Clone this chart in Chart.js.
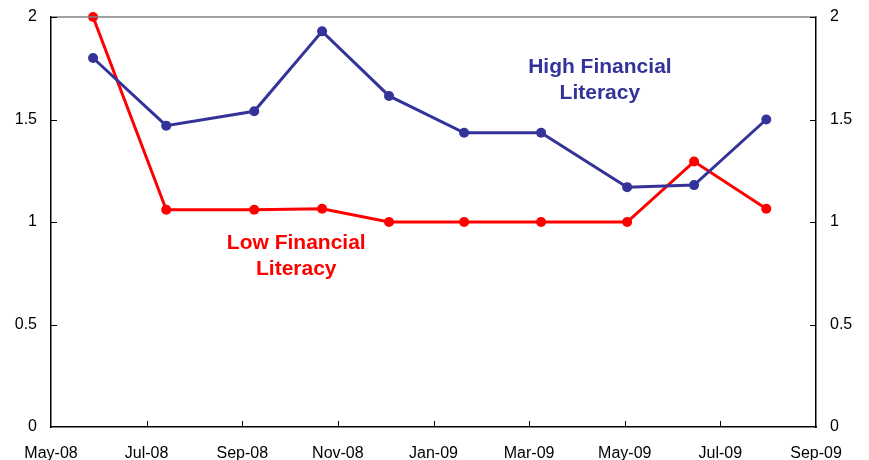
<!DOCTYPE html>
<html>
<head>
<meta charset="utf-8">
<script src="https://cdn.jsdelivr.net/npm/chart.js@4/dist/chart.umd.min.js"></script>
<style>
  html, body { margin: 0; padding: 0; background: #fff; }
  #wrap { width: 869px; height: 460px; }
</style>
</head>
<body>
<div id="wrap"><canvas id="myChart" width="869" height="460"></canvas></div>
<script>
// months since May-08 for each survey point
var monthPos = [0.88, 2.41, 4.25, 5.67, 7.07, 8.64, 10.25, 12.05, 13.45, 14.96];
var highLit = [1.80, 1.47, 1.54, 1.93, 1.615, 1.435, 1.435, 1.17, 1.18, 1.50];
var lowLit = [2.00, 1.06, 1.06, 1.065, 1.00, 1.00, 1.00, 1.00, 1.295, 1.065];
var xLabels = ['May-08', 'Jul-08', 'Sep-08', 'Nov-08', 'Jan-09', 'Mar-09', 'May-09', 'Jul-09', 'Sep-09'];
var yLabels = ['0', '0.5', '1', '1.5', '2'];

var BLUE = '#333399';
var RED = '#ff0000';

function toPoints(xs, ys) {
    return xs.map(function (x, i) { return { x: x, y: ys[i] }; });
}

// text labels placed in data units
var notes = [
    { lines: ['High Financial', 'Literacy'], x: 11.48, y: 1.756, color: BLUE },
    { lines: ['Low Financial', 'Literacy'], x: 5.13, y: 0.898, color: RED }
];

var extras = {
    id: 'extras',
    afterDraw: function (chart) {
        var ctx = chart.ctx;
        var a = chart.chartArea;
        var xs = chart.scales.x, ys = chart.scales.y;
        ctx.save();
        // top border
        ctx.strokeStyle = '#808080';
        ctx.lineWidth = 1.5;
        ctx.beginPath();
        ctx.moveTo(a.left, a.top);
        ctx.lineTo(a.right, a.top);
        ctx.stroke();
        // inside tick marks
        ctx.strokeStyle = '#000';
        ctx.lineWidth = 1;
        ctx.beginPath();
        for (var i = 1; i < xLabels.length - 1; i++) {
            var px = Math.round(xs.getPixelForValue(i * 2)) + 0.5;
            ctx.moveTo(px, a.bottom);
            ctx.lineTo(px, a.bottom - 6);
        }
        for (var j = 1; j < yLabels.length; j++) {
            var py = Math.round(ys.getPixelForValue(j * 0.5)) + 0.5;
            ctx.moveTo(a.left, py);
            ctx.lineTo(a.left + 6, py);
            ctx.moveTo(a.right, py);
            ctx.lineTo(a.right - 6, py);
        }
        ctx.stroke();
        // notes
        ctx.font = 'bold 21px "Liberation Sans", Arial, sans-serif';
        ctx.textAlign = 'center';
        ctx.textBaseline = 'middle';
        notes.forEach(function (n) {
            ctx.fillStyle = n.color;
            var cx = xs.getPixelForValue(n.x);
            var cy = ys.getPixelForValue(n.y);
            n.lines.forEach(function (t, k) {
                ctx.fillText(t, cx, cy + k * 26);
            });
        });
        ctx.restore();
    }
};

var tickFont = { family: '"Liberation Sans", Arial, sans-serif', size: 16 };

function yAxis(pos, w) {
    return {
        type: 'linear',
        position: pos,
        min: 0,
        max: 2,
        grid: { display: false, drawTicks: false },
        border: { display: true, color: '#000', width: 1.5 },
        ticks: {
            stepSize: 0.5,
            padding: 14,
            color: '#000',
            font: tickFont,
            callback: function (v) { return yLabels[Math.round(v / 0.5)]; }
        },
        afterFit: function (s) {
            s.width = w;
            s.paddingTop = 0;
            s.paddingBottom = 0;
        }
    };
}

var ctx = document.getElementById('myChart');
var myChart = new Chart(ctx, {
    type: 'line',
    data: {
        datasets: [
            {
                label: 'High Financial Literacy',
                data: toPoints(monthPos, highLit),
                borderColor: BLUE,
                backgroundColor: BLUE,
                borderWidth: 3,
                pointRadius: 5,
                pointBorderWidth: 0,
                tension: 0
            },
            {
                label: 'Low Financial Literacy',
                data: toPoints(monthPos, lowLit),
                borderColor: RED,
                backgroundColor: RED,
                borderWidth: 3,
                pointRadius: 5,
                pointBorderWidth: 0,
                tension: 0
            }
        ]
    },
    options: {
        responsive: false,
        animation: false,
        clip: false,
        layout: { padding: { top: 17, left: 0, right: 0, bottom: 0 } },
        plugins: { legend: { display: false }, tooltip: { enabled: false } },
        scales: {
            x: {
                type: 'linear',
                min: 0,
                max: 16,
                grid: { display: false, drawTicks: false },
                border: { display: true, color: '#000', width: 1.5 },
                ticks: {
                    stepSize: 2,
                    autoSkip: false,
                    maxRotation: 0,
                    padding: 17,
                    color: '#000',
                    font: tickFont,
                    callback: function (v) { return xLabels[Math.round(v / 2)]; }
                },
                afterFit: function (s) { s.height = 33; }
            },
            y: yAxis('left', 51),
            y2: yAxis('right', 53)
        }
    },
    plugins: [extras]
});
</script>
</body>
</html>
